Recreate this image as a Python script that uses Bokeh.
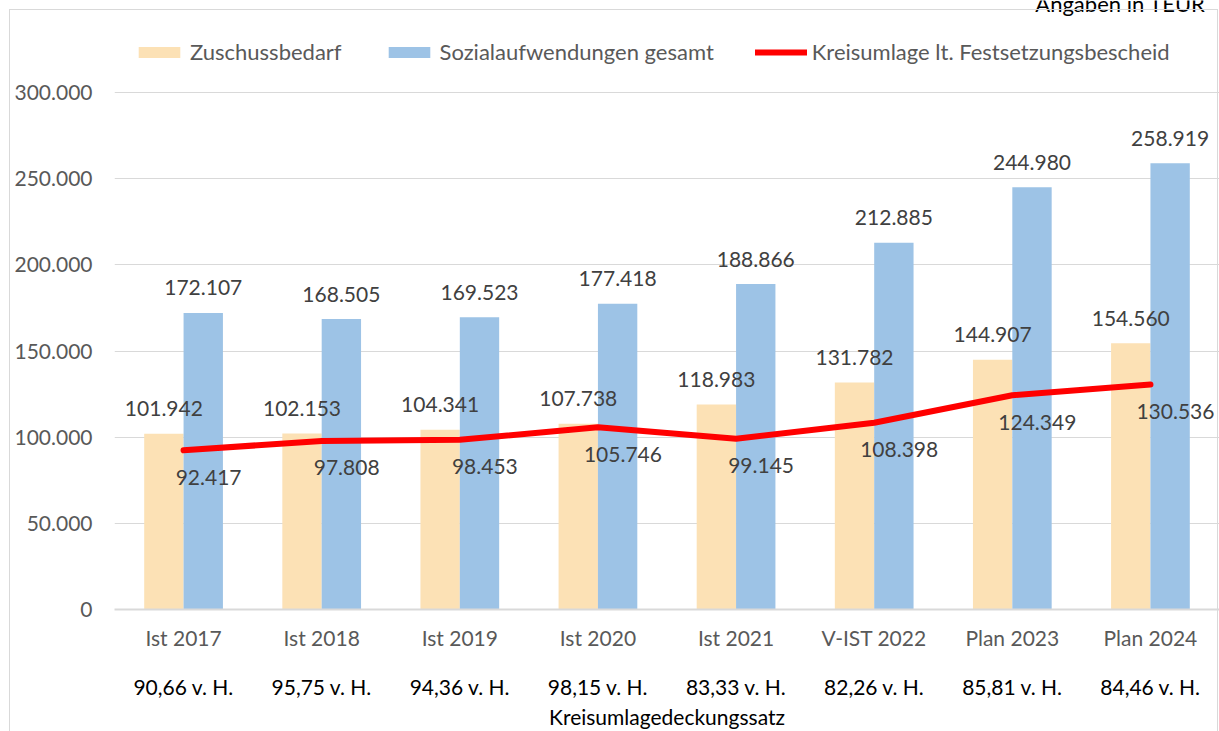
from bokeh.plotting import figure
from bokeh.models import (ColumnDataSource, FactorRange, Range1d, CategoricalAxis,
                          FixedTicker, Legend, LegendItem, Label, InlineStyleSheet)
from bokeh.transform import dodge
from bokeh.core.properties import value
from bokeh.embed import file_html
from bokeh.resources import INLINE

# ---------------- data ----------------
categories = ["Ist 2017", "Ist 2018", "Ist 2019", "Ist 2020", "Ist 2021",
              "V-IST 2022", "Plan 2023", "Plan 2024"]
zuschussbedarf = [101942, 102153, 104341, 107738, 118983, 131782, 144907, 154560]
sozialaufwendungen = [172107, 168505, 169523, 177418, 188866, 212885, 244980, 258919]
kreisumlage = [92417, 97808, 98453, 105746, 99145, 108398, 124349, 130536]
deckungssatz = [90.66, 95.75, 94.36, 98.15, 83.33, 82.26, 85.81, 84.46]
y_ticks = [0, 50000, 100000, 150000, 200000, 250000, 300000]


def de(v):
    return f"{v:,}".replace(",", ".")


pct_labels = [f"{v:.2f}".replace(".", ",") + " v. H." for v in deckungssatz]

FONT = "Lato"
ORANGE = "#FCE1B5"
BLUE = "#9DC3E6"
RED = "#FF0000"
GRID = "#D9D9D9"

src = ColumnDataSource(dict(
    cat=categories,
    zu=zuschussbedarf, so=sozialaufwendungen, ku=kreisumlage,
    zu_l=[de(v) for v in zuschussbedarf],
    so_l=[de(v) for v in sozialaufwendungen],
    ku_l=[de(v) for v in kreisumlage],
))

# the value axis runs 0..300.000 on the grid; the plot area reaches up to the
# top edge of the picture so that the legend can sit above the top grid line
p = figure(x_range=FactorRange(factors=categories, range_padding=0),
           y_range=Range1d(0, 353400), title=None,
           width=1219, height=731, output_backend="svg", toolbar_location=None,
           min_border_left=114, min_border_right=0, min_border_top=0,
           min_border_bottom=122)
# light grey chart frame (as in the reference), drawn with CSS
p.stylesheets = [InlineStyleSheet(css="""
:host::after {
  content: "";
  position: absolute;
  left: 9px; top: 9px; width: 1209px; height: 722px;
  box-sizing: border-box;
  border: 1px solid #D9D9D9; border-bottom: none;
  pointer-events: none;
}
""")]
p.outline_line_color = None
p.background_fill_color = "white"
p.border_fill_color = "white"

p.xgrid.grid_line_color = None
p.ygrid.grid_line_color = GRID
p.ygrid.grid_line_width = 1

# y axis
p.yaxis.ticker = FixedTicker(ticks=y_ticks)
p.yaxis.major_label_overrides = {t: de(t) for t in y_ticks}
p.yaxis.axis_line_color = None
p.yaxis.major_tick_line_color = None
p.yaxis.minor_tick_line_color = None
p.yaxis.major_tick_out = 0
p.yaxis.major_label_standoff = 22
p.yaxis.major_label_text_font = FONT
p.yaxis.major_label_text_font_size = "21px"
p.yaxis.major_label_text_color = "#595959"

# bars
r_zu = p.vbar(x=dodge("cat", -0.1425, range=p.x_range), top="zu", width=0.285,
              source=src, fill_color=ORANGE, line_color=None)
r_so = p.vbar(x=dodge("cat", 0.1425, range=p.x_range), top="so", width=0.285,
              source=src, fill_color=BLUE, line_color=None)
r_ku = p.line(x="cat", y="ku", source=src, line_color=RED, line_width=6,
              line_cap="round", line_join="round")

# x axis (categories)
xa = p.xaxis[0]
xa.axis_line_color = GRID
xa.axis_line_width = 2
xa.major_tick_line_color = None
xa.minor_tick_line_color = None
xa.major_tick_out = 0
xa.major_label_standoff = 15
xa.major_label_text_font = FONT
xa.major_label_text_font_size = "21px"
xa.major_label_text_color = "#595959"

# second axis (Deckungssatz)
p.extra_x_ranges = {"pct": FactorRange(factors=pct_labels, range_padding=0)}
ax2 = CategoricalAxis(x_range_name="pct", axis_label="Kreisumlagedeckungssatz")
ax2.axis_line_color = None
ax2.major_tick_line_color = None
ax2.minor_tick_line_color = None
ax2.major_tick_out = 0
ax2.major_label_standoff = 21
ax2.major_label_text_font = FONT
ax2.major_label_text_font_size = "21px"
ax2.major_label_text_color = "#000000"
ax2.axis_label_standoff = 2
ax2.axis_label_text_font = FONT
ax2.axis_label_text_font_size = "21px"
ax2.axis_label_text_font_style = "normal"
ax2.axis_label_text_color = "#000000"
p.add_layout(ax2, "below")

# data labels
common = dict(source=src, text_align="center", text_baseline="middle",
              text_font=value(FONT), text_font_size="21px", text_color="#404040")
p.text(x=dodge("cat", -0.1425, range=p.x_range), y="zu", text="zu_l", y_offset=-25, **common)
p.text(x=dodge("cat", 0.1425, range=p.x_range), y="so", text="so_l", y_offset=-25, **common)
p.text(x="cat", y="ku", text="ku_l", x_offset=25, y_offset=27, **common)

# legend (above the top grid line)
legend = Legend(items=[LegendItem(label="Zuschussbedarf", renderers=[r_zu]),
                       LegendItem(label="Sozialaufwendungen gesamt", renderers=[r_so]),
                       LegendItem(label="Kreisumlage lt. Festsetzungsbescheid", renderers=[r_ku])],
                orientation="horizontal", location=(19, 544),
                glyph_width=52, glyph_height=14, label_standoff=5, spacing=41,
                padding=0, margin=0, border_line_color=None, background_fill_alpha=0,
                label_text_font=FONT, label_text_font_size="22px",
                label_text_color="#595959", label_height=24)
p.add_layout(legend)

# unit note (cut off at the top edge, as in the reference)
p.add_layout(Label(x=1091, y=606, x_units="screen", y_units="screen",
                   text="Angaben in TEUR", text_align="right", text_baseline="alphabetic",
                   text_font=FONT, text_font_size="22px", text_color="#000000"))

open("out.html", "w").write(file_html(p, INLINE))
